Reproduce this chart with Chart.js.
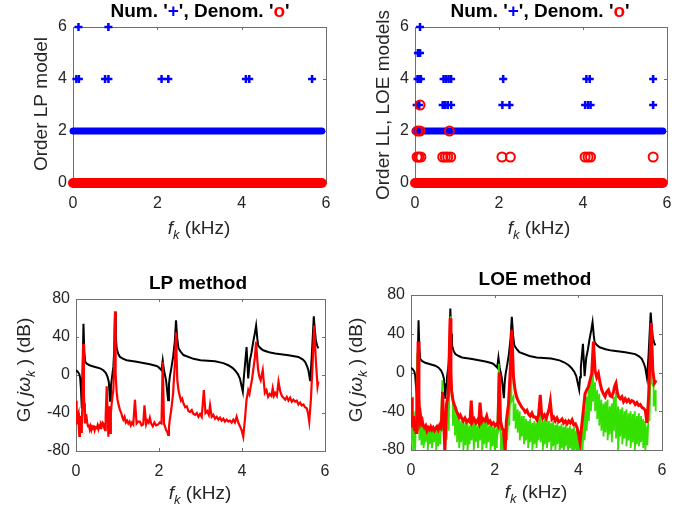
<!DOCTYPE html>
<html>
<head>
<meta charset="UTF-8">
<title>LP / LOE model orders</title>
<script src="https://cdn.jsdelivr.net/npm/chart.js"></script>
<style>
  body { margin: 0; background: #fff; }
  #wrap { position: relative; width: 694px; height: 514px; }
  canvas { position: absolute; }
</style>
</head>
<body>
<div id="wrap">
  <canvas id="c1" width="347" height="257" style="left:0;top:0"></canvas>
  <canvas id="c2" width="347" height="257" style="left:347px;top:0"></canvas>
  <canvas id="c3" width="347" height="257" style="left:0;top:257px"></canvas>
  <canvas id="c4" width="347" height="257" style="left:347px;top:257px"></canvas>
</div>
<script>
// ---- top left: LP model orders ----
const lpNumF = [0.13, 0.84, 0.08, 0.14, 0.76, 0.84, 2.1, 2.26, 4.1, 4.18, 5.67];
const lpNumN = [6, 6, 4, 4, 4, 4, 4, 4, 4, 4, 4];
// dense run of markers over the whole band (num = 2, denom = 0)
const bandF = [0, 5.9];

// ---- top right: LL / LOE model orders ----
const loeNumF = [0.12, 0.07, 0.12, 0.06, 0.1, 0.14, 0.68, 0.74, 0.8, 0.86, 2.1, 4.08, 4.16, 5.67,
                 0.04, 0.1, 0.66, 0.72, 0.78, 0.86, 2.08, 2.25, 4.05, 4.12, 4.18, 5.67];
const loeNumN = [6, 5, 5, 4, 4, 4, 4, 4, 4, 4, 4, 4, 4, 4,
                 3, 3, 3, 3, 3, 3, 3, 3, 3, 3, 3, 3];
const loeDenF = [0.12, 0.06, 0.12, 0.82, 0.05, 0.09, 0.14, 0.66, 0.72, 0.78, 0.85, 2.07, 2.27, 4.05, 4.12, 4.18, 5.67];
const loeDenN = [3, 2, 2, 2, 1, 1, 1, 1, 1, 1, 1, 1, 1, 1, 1, 1, 1];

// ---- bottom: frequency responses (kHz, dB) ----
const blackF = [0, 0.04, 0.08, 0.1, 0.12, 0.14, 0.16, 0.18, 0.2, 0.22, 0.26, 0.34, 0.46, 0.58, 0.66, 0.72, 0.76, 0.79, 0.82, 0.84,
  0.86, 0.88, 0.9, 0.92, 0.94, 0.96, 0.98, 1.02, 1.06, 1.14, 1.22, 1.46, 1.78, 1.94, 1.98, 2.04, 2.06, 2.09, 2.12, 2.17,
  2.22, 2.24, 2.26, 2.3, 2.34, 2.38, 2.41, 2.44, 2.47, 2.53, 2.59, 2.83, 3.0, 3.35, 3.55, 3.67, 3.77, 3.83, 3.9, 3.95,
  4.02, 4.04, 4.06, 4.11, 4.15, 4.19, 4.23, 4.27, 4.31, 4.34, 4.37, 4.39, 4.45, 4.51, 4.65, 4.8, 5.12, 5.36, 5.46, 5.52,
  5.57, 5.6, 5.64, 5.66, 5.68, 5.71, 5.73, 5.75, 5.78, 5.81, 5.84];
const blackDb = [5, 3.5, 1, -3, -15, -35, 10, 54, 25, 14, 12, 10, 8.5, 7, 5, 2, -2, -7, -27, -12,
  -5, 2, 8.5, 25, 66, 40, 28, 22, 19, 17, 15.5, 14, 11.3, 9.5, 8.5, 6, 5, 15.5, 5, -5.5,
  -26.5, -10, -2, 8, 19, 35, 57.6, 38, 28, 24, 21, 17, 15.5, 14.5, 12.5, 10.3, 7.5, 5, 1, -3.7,
  -17.7, -5, 5, 29.5, -3.7, 15.5, 24, 34.8, 44, 52, 38, 31, 28, 26, 24, 22.6, 20.8, 19, 16.5, 13.8,
  9, 5, -5.5, 5, 19, 45, 61.8, 50, 36.5, 31, 28];

const lpRedF = [0, 0.01, 0.02, 0.03, 0.045, 0.06, 0.07, 0.08, 0.095, 0.11, 0.125, 0.14, 0.155, 0.175, 0.19, 0.2, 0.215, 0.23, 0.25, 0.27,
  0.29, 0.31, 0.33, 0.35, 0.37, 0.39, 0.41, 0.43, 0.45, 0.47, 0.5, 0.52, 0.54, 0.56, 0.58, 0.6, 0.62, 0.64, 0.66, 0.68,
  0.7, 0.715, 0.74, 0.76, 0.78, 0.8, 0.82, 0.84, 0.86, 0.88, 0.9, 0.925, 0.94, 0.955, 0.98, 1.0, 1.03, 1.06, 1.09, 1.12,
  1.14, 1.17, 1.2, 1.23, 1.26, 1.29, 1.32, 1.35, 1.38, 1.42, 1.46, 1.5, 1.54, 1.58, 1.62, 1.65, 1.69, 1.72, 1.75, 1.78,
  1.81, 1.85, 1.89, 1.93, 1.98, 2.02, 2.06, 2.09, 2.12, 2.15, 2.17, 2.2, 2.22, 2.24, 2.26, 2.3, 2.34, 2.38, 2.41, 2.44,
  2.47, 2.5, 2.53, 2.56, 2.59, 2.63, 2.67, 2.71, 2.75, 2.79, 2.83, 2.87, 2.91, 2.95, 2.99, 3.03, 3.08, 3.12, 3.16, 3.2,
  3.23, 3.27, 3.31, 3.35, 3.39, 3.43, 3.47, 3.51, 3.55, 3.59, 3.63, 3.67, 3.71, 3.75, 3.79, 3.83, 3.87, 3.91, 3.95, 3.99,
  4.03, 4.07, 4.11, 4.15, 4.18, 4.21, 4.24, 4.27, 4.31, 4.34, 4.37, 4.39, 4.42, 4.45, 4.5, 4.55, 4.59, 4.63, 4.67, 4.71,
  4.74, 4.77, 4.8, 4.84, 4.88, 4.92, 4.96, 5.0, 5.04, 5.08, 5.12, 5.16, 5.2, 5.24, 5.28, 5.32, 5.36, 5.4, 5.44, 5.48,
  5.52, 5.56, 5.59, 5.62, 5.66, 5.7, 5.74, 5.78, 5.82, 5.84];
const lpRedDb = [-27, -45, -38, -51, -42, -40, -58, -64, -48, -43, -60, -54, -26, 33, -20, -30, -51, -44, -43, -50,
  -54, -52, -57, -54, -58, -55, -57, -53, -58, -55, -56, -53, -57, -54, -56, -52, -54, -50, -51, -56,
  -58, -44, -12, -37, -65, -33, -61, -40, -30, -22, -16, 20, 67, 1, -18, -26, -32, -37, -40, -45,
  -47, -44, -50, -48, -51, -49, -53, -50, -52, -26, -51, -49, -49, -53, -52, -32, -52, -48, -50, -45,
  -51, -54, -50, -53, -52, -50, -51, 14, -51, -55, -58, -60, -63, -55, -47, -35, -19, 10, 45, -5,
  -16, -22, -27, -25, -30, -34, -33, -38, -39, -37, -41, -42, -40, -44, -41, -44, -16, -40, -38, -42,
  -32, -44, -42, -46, -44, -47, -45, -48, -46, -49, -47, -49, -48, -50, -47, -50, -44, -50, -54, -58,
  -65, -47, -26, -16, -20, -12, -5, 5, 18, 35, 15, 5, -2, -5.5, 5, -19, -16, -23, -20, -22,
  -14, -22, -19, -22, -7, -17, -22, -24, -26, -23, -27, -24, -28, -26, -28, -27, -31, -29, -32, -31,
  -34, -35, -40, -49, -26, 10, 52, 15, -12, -7];

const loeRedF = [0, 0.02, 0.04, 0.06, 0.08, 0.1, 0.12, 0.14, 0.155, 0.17, 0.19, 0.21, 0.23, 0.25, 0.27, 0.29, 0.32, 0.35, 0.38, 0.41,
  0.44, 0.47, 0.5, 0.53, 0.56, 0.59, 0.62, 0.65, 0.68, 0.71, 0.73, 0.755, 0.77, 0.79, 0.81, 0.83, 0.85, 0.87, 0.89, 0.91,
  0.935, 0.955, 0.97, 1.0, 1.03, 1.06, 1.09, 1.12, 1.15, 1.18, 1.21, 1.25, 1.29, 1.33, 1.37, 1.41, 1.44, 1.47, 1.51, 1.55,
  1.59, 1.62, 1.65, 1.69, 1.73, 1.77, 1.81, 1.85, 1.89, 1.93, 1.97, 2.01, 2.05, 2.08, 2.11, 2.14, 2.18, 2.21, 2.23, 2.25,
  2.28, 2.33, 2.37, 2.41, 2.45, 2.49, 2.53, 2.57, 2.61, 2.65, 2.69, 2.73, 2.77, 2.81, 2.85, 2.89, 2.93, 2.97, 3.01, 3.05,
  3.09, 3.12, 3.15, 3.19, 3.23, 3.27, 3.3, 3.33, 3.37, 3.41, 3.45, 3.49, 3.53, 3.57, 3.61, 3.65, 3.69, 3.73, 3.77, 3.81,
  3.85, 3.89, 3.93, 3.97, 4.01, 4.04, 4.08, 4.12, 4.16, 4.2, 4.24, 4.28, 4.32, 4.36, 4.4, 4.44, 4.48, 4.52, 4.56, 4.6,
  4.64, 4.68, 4.72, 4.76, 4.8, 4.84, 4.87, 4.9, 4.93, 4.96, 5.0, 5.04, 5.08, 5.12, 5.16, 5.2, 5.24, 5.28, 5.32, 5.36,
  5.4, 5.44, 5.48, 5.52, 5.56, 5.6, 5.64, 5.68, 5.71, 5.74, 5.78, 5.82, 5.86];
const loeRedDb = [-26, -40, -57, -45, -60, -50, -62, -49, -20, 32, -25, -49, -45, -52, -50, -55, -57, -55, -60, -57,
  -59, -56, -59, -57, -60, -58, -56, -59, -55, -57, -50, -20, -40, -60, -81, -55, -33, -28, -23, 10,
  56, 0, -19, -28, -33, -36, -40, -43, -46, -44, -47, -50, -47, -51, -49, -51, -29, -51, -48, -52,
  -49, -52, -31, -51, -48, -50, -45, -52, -50, -54, -52, -55, -53, -55, 0, -50, -58, -59, -70, -80,
  -50, -33, 0, 44, -5, -19, -26, -30, -33, -36, -38, -41, -39, -43, -45, -42, -46, -46, -49, -44,
  -23, -42, -47, -44, -47, -42, -38, -30, -48, -46, -50, -47, -51, -50, -48, -52, -50, -53, -50, -52,
  -49, -54, -53, -57, -65, -72, -55, -39, -22, -18, -15, -8, -1, 32, 2, -5, -1, -11, -18, -22,
  -25, -20, -18, -24, -25, -20, -14, -11, -20, -25, -27, -25, -30, -27, -30, -28, -31, -29, -30, -33,
  -31, -34, -33, -36, -37, -39, -52, -25, 10, 51, 2, -11, -8];

const greenF = [0, 0.05, 0.1, 0.15, 0.2, 0.25, 0.3, 0.35, 0.4, 0.45, 0.5, 0.55, 0.6, 0.65, 0.7, 0.75, 0.8, 0.85, 0.9, 0.95,
  1.0, 1.05, 1.1, 1.15, 1.2, 1.25, 1.3, 1.35, 1.4, 1.45, 1.5, 1.55, 1.6, 1.65, 1.7, 1.75, 1.8, 1.85, 1.9, 1.95,
  2.0, 2.05, 2.1, 2.15, 2.2, 2.25, 2.3, 2.35, 2.4, 2.45, 2.5, 2.55, 2.6, 2.65, 2.7, 2.75, 2.8, 2.85, 2.9, 2.95,
  3.0, 3.05, 3.1, 3.15, 3.2, 3.25, 3.3, 3.35, 3.4, 3.45, 3.5, 3.55, 3.6, 3.65, 3.7, 3.75, 3.8, 3.85, 3.9, 3.95,
  4.0, 4.05, 4.1, 4.15, 4.2, 4.25, 4.3, 4.35, 4.4, 4.45, 4.5, 4.55, 4.6, 4.65, 4.7, 4.75, 4.8, 4.85, 4.9, 4.95,
  5.0, 5.05, 5.1, 5.15, 5.2, 5.25, 5.3, 5.35, 5.4, 5.45, 5.5, 5.55, 5.6, 5.65, 5.7, 5.75, 5.8, 5.85];
// upper and lower edge of the green noise band at each frequency
const greenHi = [-30, -25, -40, 20, -35, -50, -55, -57, -55, -58, -56, -58, -55, -54, -50, -8, -40, -30, -20, 58,
  -25, -35, -42, -45, -50, -48, -52, -50, -55, -35, -52, -50, -55, -35, -52, -48, -45, -55, -52, -56,
  -55, -58, 9, -55, -62, -70, -40, -20, 30, -25, -32, -38, -40, -45, -45, -48, -50, -48, -52, -50,
  -52, -45, -35, -50, -48, -42, -50, -52, -50, -54, -52, -55, -53, -56, -54, -57, -55, -58, -56, -60,
  -65, -72, -60, -40, -25, -15, -5, 10, -10, -18, -22, -28, -32, -30, -28, -35, -32, -25, -20, -35,
  -38, -36, -40, -38, -42, -40, -43, -40, -45, -42, -45, -48, -50, -55, -20, 40, -15, -18];
const greenLo = [-75, -82, -80, -60, -70, -75, -78, -72, -80, -74, -78, -72, -80, -76, -74, -60, -85, -70, -60, -10,
  -55, -65, -72, -78, -72, -80, -75, -82, -74, -70, -80, -72, -78, -70, -82, -74, -78, -72, -80, -76,
  -82, -78, -60, -80, -85, -85, -70, -55, -30, -50, -58, -62, -70, -66, -74, -70, -78, -72, -80, -74,
  -78, -70, -72, -80, -74, -78, -72, -82, -76, -80, -74, -84, -78, -82, -76, -85, -78, -82, -80, -84,
  -85, -88, -80, -70, -60, -50, -40, -30, -40, -48, -55, -60, -66, -62, -70, -64, -72, -60, -68, -82,
  -66, -74, -68, -76, -70, -78, -72, -80, -74, -76, -72, -78, -80, -75, -50, -10, -35, -40];

const BLUE = '#0000ff', RED = '#ff0000', BLACK = '#000000', GREEN = '#33e000';
const TXT = '#262626';
const FONT = "'Liberation Sans', Arial, sans-serif";

const pts = (xs, ys) => xs.map((x, i) => ({ x, y: ys[i] }));
const band = (y) => bandF.map(x => ({ x, y }));
const zigzag = [];
greenF.forEach((f, i) => { zigzag.push({ x: f, y: greenHi[i] }); zigzag.push({ x: f, y: greenLo[i] }); });

// MATLAB style box with inward ticks
const boxPlugin = {
  id: 'mbox',
  beforeDatasetsDraw(chart) {
    const { ctx, chartArea: a, scales: { x, y } } = chart;
    ctx.save();
    ctx.strokeStyle = '#6f6f6f';
    ctx.lineWidth = 1;
    ctx.strokeRect(Math.round(a.left) + 0.5, Math.round(a.top) + 0.5,
      Math.round(a.right - a.left), Math.round(a.bottom - a.top));
    ctx.beginPath();
    x.ticks.forEach(t => {
      const p = Math.round(x.getPixelForValue(t.value)) + 0.5;
      ctx.moveTo(p, a.bottom); ctx.lineTo(p, a.bottom - 3);
      ctx.moveTo(p, a.top); ctx.lineTo(p, a.top + 3);
    });
    y.ticks.forEach(t => {
      const p = Math.round(y.getPixelForValue(t.value)) + 0.5;
      ctx.moveTo(a.left, p); ctx.lineTo(a.left + 3, p);
      ctx.moveTo(a.right, p); ctx.lineTo(a.right - 3, p);
    });
    ctx.stroke();
    ctx.restore();
  }
};

// titles and axis labels with coloured / italic / subscript parts
function fontOf(st) {
  if (st === 'b') return 'bold 19px ' + FONT;
  if (st === 'i') return 'italic 19px ' + FONT;
  if (st === 's') return 'italic 13px ' + FONT;
  return '19px ' + FONT;
}
function richPlugin(items) {
  return {
    id: 'rich',
    afterDraw(chart) {
      const ctx = chart.ctx;
      items.forEach(it => {
        ctx.save();
        ctx.translate(it.x, it.y);
        if (it.rot) ctx.rotate(-Math.PI / 2);
        ctx.textBaseline = 'middle';
        let w = 0;
        const parts = it.segs.map(s => {
          ctx.font = fontOf(s[1]);
          const pw = ctx.measureText(s[0]).width;
          w += pw;
          return { t: s[0], f: ctx.font, c: s[2] || TXT, w: pw, dy: s[1] === 's' ? 6 : 0 };
        });
        let px = -w / 2;
        parts.forEach(p => {
          ctx.font = p.f; ctx.fillStyle = p.c;
          ctx.fillText(p.t, px, p.dy);
          px += p.w;
        });
        ctx.restore();
      });
    }
  };
}

const numTitle = [["Num. '", 'b', '#000'], ['+', 'b', BLUE], ["', Denom. '", 'b', '#000'], ['o', 'b', RED], ["'", 'b', '#000']];
const fLabel = [['f', 'i'], ['k', 's'], [' (kHz)', 'n']];
const gLabel = [['G( ', 'n'], ['j\u03C9', 'i'], ['k', 's'], [' ) (dB)', 'n']];

function makeChart(id, box, type, datasets, yr, items) {
  const c = document.getElementById(id);
  const tickFont = { family: FONT, size: 16 };
  return new Chart(c, {
    type,
    data: { datasets },
    options: {
      responsive: false,
      animation: false,
      layout: { padding: { left: 0, top: box.top, right: c.width - box.right, bottom: 0 } },
      plugins: { legend: { display: false }, tooltip: { enabled: false } },
      scales: {
        x: {
          type: 'linear', min: 0, max: 6,
          ticks: { stepSize: 2, padding: 11, font: tickFont, color: TXT, maxRotation: 0 },
          grid: { display: false, drawTicks: false }, border: { display: false },
          afterFit(s) { s.height = c.height - box.bottom; }
        },
        y: {
          min: yr[0], max: yr[1],
          ticks: { stepSize: yr[2], padding: 6, font: tickFont, color: TXT },
          grid: { display: false, drawTicks: false }, border: { display: false },
          afterFit(s) { s.width = box.left; }
        }
      }
    },
    plugins: [boxPlugin, richPlugin(items)]
  });
}

const marks = (data, color, style, r, bw) => ({
  data, showLine: false, pointStyle: style, pointRadius: r, borderColor: color,
  backgroundColor: 'rgba(0,0,0,0)', pointBorderWidth: bw, borderWidth: bw, clip: false
});
const bandSet = (y, color, w) => ({
  data: band(y), showLine: true, borderColor: color, borderWidth: w, borderCapStyle: 'round',
  pointRadius: 0, clip: false
});

makeChart('c1', { left: 73, top: 27, right: 326, bottom: 183 }, 'scatter', [
  bandSet(0, RED, 10),
  marks(pts(lpNumF, lpNumN), BLUE, 'cross', 4, 2.5),
  bandSet(2, BLUE, 7)
], [0, 6, 2], [
  { x: 200, y: 12, segs: numTitle },
  { x: 199, y: 229, segs: fLabel },
  { x: 42, y: 104, rot: true, segs: [['Order LP model', 'n']] }
]);

makeChart('c2', { left: 68, top: 27, right: 320, bottom: 183 }, 'scatter', [
  bandSet(0, RED, 10),
  marks(pts(loeDenF, loeDenN), RED, 'circle', 4.5, 2),
  marks(pts(loeNumF, loeNumN), BLUE, 'cross', 4, 2.5),
  bandSet(2, BLUE, 7)
], [0, 6, 2], [
  { x: 193, y: 12, segs: numTitle },
  { x: 192, y: 229, segs: fLabel },
  { x: 37, y: 105, rot: true, segs: [['Order LL, LOE models', 'n']] }
]);

const curve = (data, color, w) => ({
  data, borderColor: color, borderWidth: w, pointRadius: 0, tension: 0, fill: false
});

makeChart('c3', { left: 76, top: 42, right: 325, bottom: 194 }, 'line', [
  curve(pts(lpRedF, lpRedDb), RED, 2.2),
  curve(pts(blackF, blackDb), BLACK, 2)
], [-80, 80, 40], [
  { x: 198, y: 27, segs: [['LP method', 'b', '#000']] },
  { x: 200, y: 237, segs: fLabel },
  { x: 25, y: 113, rot: true, segs: gLabel }
]);

makeChart('c4', { left: 64, top: 38, right: 315, bottom: 193 }, 'line', [
  curve(pts(loeRedF, loeRedDb), RED, 3),
  curve(zigzag, GREEN, 1.8),
  curve(pts(blackF, blackDb), BLACK, 2)
], [-80, 80, 40], [
  { x: 188, y: 23, segs: [['LOE method', 'b', '#000']] },
  { x: 189, y: 236, segs: fLabel },
  { x: 10, y: 113, rot: true, segs: gLabel }
]);
</script>
</body>
</html>
